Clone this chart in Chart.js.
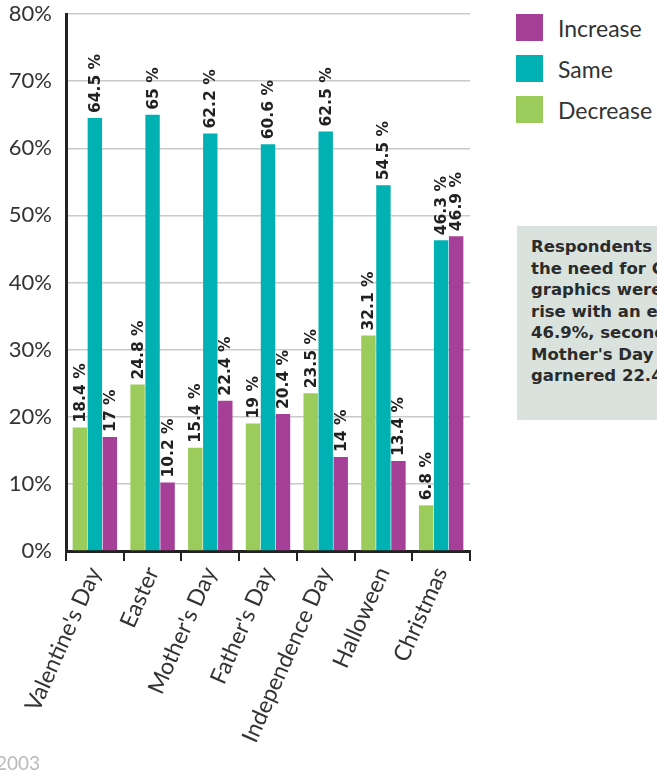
<!DOCTYPE html>
<html>
<head>
<meta charset="utf-8">
<script src="https://cdn.jsdelivr.net/npm/chart.js@4"></script>
<style>
  html, body { margin: 0; padding: 0; background: #fff; overflow: hidden; }
  body { width: 657px; height: 772px; position: relative; font-family: "Lato", sans-serif; }
  #wrap { position: absolute; left: 0; top: 0; width: 480px; height: 772px; }
  #legend { position: absolute; left: 516px; top: 14px; }
  .leg-row { display: flex; align-items: center; height: 27px; margin-bottom: 14px; }
  .leg-box { width: 27px; height: 27px; margin-right: 15px; }
  .leg-text { font-size: 23px; color: #333; }
  #note {
    position: absolute; left: 517px; top: 226px; width: 200px; height: 194px;
    background: #d9e2dd; box-sizing: border-box; padding: 10px 0 0 14px;
    font-family: "DejaVu Sans", sans-serif; font-weight: bold; font-size: 16.5px;
    line-height: 21.5px; color: #2b2b2b; white-space: nowrap;
  }
  #year { position: absolute; left: -4px; top: 751px; font-size: 19px; color: #bbb; }
</style>
</head>
<body>
<div id="wrap"><canvas id="holidayChart"></canvas></div>
<div id="legend"></div>
<div id="note">Respondents expected<br>the need for Christmas<br>graphics were on the<br>rise with an estimated<br>46.9%, second was<br>Mother's Day which<br>garnered 22.4%.</div>
<div id="year">2003</div>
<script>
const holidays = ["Valentine's Day", "Easter", "Mother's Day", "Father's Day", "Independence Day", "Halloween", "Christmas"];
const decreaseVals = [18.4, 24.8, 15.4, 19, 23.5, 32.1, 6.8];
const sameVals = [64.5, 65, 62.2, 60.6, 62.5, 54.5, 46.3];
const increaseVals = [17, 10.2, 22.4, 20.4, 14, 13.4, 46.9];
const yTicks = [0, 10, 20, 30, 40, 50, 60, 70, 80];

const series = [
  { label: "Decrease", data: decreaseVals, color: "#9bcb5b" },
  { label: "Same", data: sameVals, color: "#00b1b3" },
  { label: "Increase", data: increaseVals, color: "#a53f97" },
];

document.addEventListener("DOMContentLoaded", () => {
  renderLegend();
  initChart();
});

function renderLegend() {
  const legend = document.getElementById("legend");
  series.slice().reverse().forEach((s) => {
    const row = document.createElement("div");
    row.className = "leg-row";
    row.innerHTML = `<div class="leg-box" style="background:${s.color}"></div><span class="leg-text">${s.label}</span>`;
    legend.appendChild(row);
  });
}

const barLabels = {
  id: "barLabels",
  afterDatasetsDraw(chart) {
    const ctx = chart.ctx;
    ctx.save();
    ctx.font = "bold 15.5px 'DejaVu Sans', sans-serif";
    ctx.fillStyle = "#222";
    ctx.textAlign = "left";
    ctx.textBaseline = "middle";
    chart.data.datasets.forEach((ds, i) => {
      chart.getDatasetMeta(i).data.forEach((bar, j) => {
        ctx.save();
        ctx.translate(bar.x + 1, bar.y - 5);
        ctx.rotate(-Math.PI / 2);
        ctx.fillText(ds.data[j] + " %", 0, 0);
        ctx.restore();
      });
    });
    ctx.restore();
  },
};

function initChart() {
  const ctx = document.getElementById("holidayChart").getContext("2d");
  new Chart(ctx, {
    type: "bar",
    data: {
      labels: holidays,
      datasets: series.map((s) => ({
        label: s.label,
        data: s.data,
        backgroundColor: s.color,
        categoryPercentage: 0.78,
        barPercentage: 0.96,
      })),
    },
    options: {
      responsive: true,
      maintainAspectRatio: false,
      animation: false,
      layout: { padding: { top: 14, right: 10, left: 0, bottom: 0 } },
      plugins: { legend: { display: false }, tooltip: { enabled: false } },
      scales: {
        x: {
          grid: { drawOnChartArea: false, drawTicks: true, tickLength: 10, color: "#222", lineWidth: 2, offset: true },
          border: { color: "#222", width: 3 },
          ticks: {
            color: "#333",
            font: { family: "Lato", size: 23 },
            minRotation: 66,
            maxRotation: 66,
            padding: 2,
          },
          afterFit: (scale) => { scale.height = 221; },
        },
        y: {
          min: 0,
          max: 80,
          afterBuildTicks: (scale) => { scale.ticks = yTicks.map((v) => ({ value: v })); },
          grid: { color: "#cacaca", lineWidth: 1.5, drawTicks: false },
          border: { color: "#222", width: 3 },
          ticks: {
            color: "#333",
            font: { family: "Lato", size: 22 },
            padding: 14,
            callback: (v) => v + "%",
          },
          afterFit: (scale) => {
            scale.width = 66;
            scale.paddingTop = 0;
            scale.paddingBottom = 0;
          },
        },
      },
    },
    plugins: [barLabels],
  });
}
</script>
</body>
</html>
